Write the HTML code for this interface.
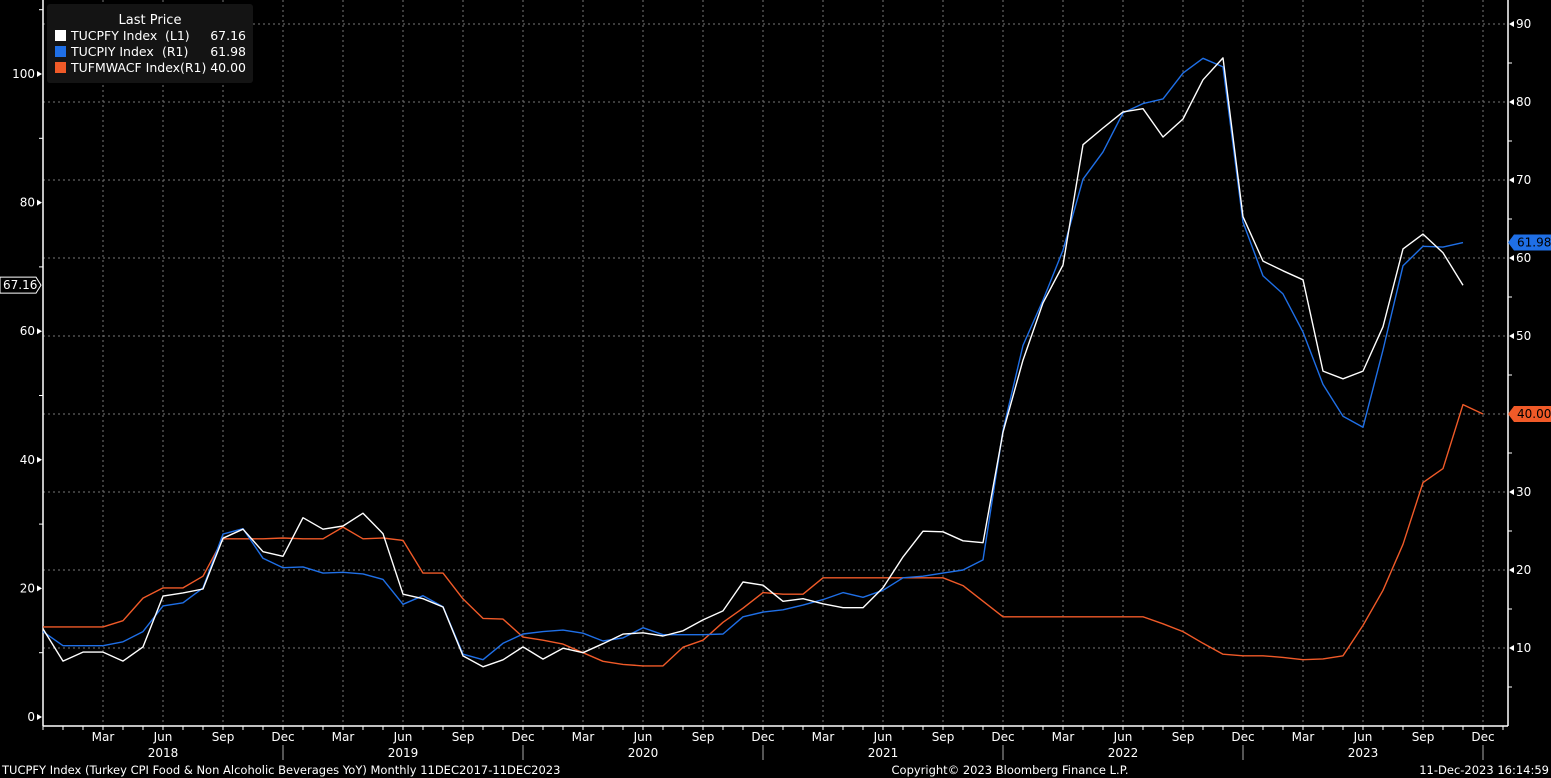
<!DOCTYPE html>
<html><head><meta charset="utf-8"><style>
html,body{margin:0;padding:0;background:#000;}
svg{display:block;font-family:"DejaVu Sans","Liberation Sans",sans-serif;}
</style></head><body>
<svg id="chart" width="1551" height="778" viewBox="0 0 1551 778" xmlns="http://www.w3.org/2000/svg">
<rect x="0" y="0" width="1551" height="778" fill="#000"/>
<g id="grid"></g>
<g id="axes"></g>
<g id="series"></g>
<g id="tags"></g>
<g>
<rect x="47" y="4" width="206" height="79" rx="3" fill="#141414"/>
<text x="150" y="24" fill="#fff" font-size="13" text-anchor="middle">Last Price</text>
<rect x="55" y="30" width="11" height="11" fill="#fff"/>
<text x="71" y="40" fill="#fff" font-size="12.5">TUCPFY Index</text>
<text x="165" y="40" fill="#fff" font-size="12.5">(L1)</text>
<text x="246" y="40" fill="#fff" font-size="12.5" text-anchor="end">67.16</text>
<rect x="55" y="46" width="11" height="11" fill="#1f6fe6"/>
<text x="71" y="56" fill="#fff" font-size="12.5">TUCPIY Index</text>
<text x="162" y="56" fill="#fff" font-size="12.5">(R1)</text>
<text x="246" y="56" fill="#fff" font-size="12.5" text-anchor="end">61.98</text>
<rect x="55" y="62" width="11" height="11" fill="#f05a28"/>
<text x="71" y="72" fill="#fff" font-size="12.5">TUFMWACF Index</text>
<text x="180" y="72" fill="#fff" font-size="12.5">(R1)</text>
<text x="246" y="72" fill="#fff" font-size="12.5" text-anchor="end">40.00</text>
</g>
<text x="2" y="774" fill="#fff" font-size="11.5">TUCPFY Index (Turkey CPI Food &amp; Non Alcoholic Beverages YoY)  Monthly 11DEC2017-11DEC2023</text>
<text x="1010" y="774" fill="#fff" font-size="11.5" text-anchor="middle">Copyright© 2023 Bloomberg Finance L.P.</text>
<text x="1549" y="774" fill="#fff" font-size="11.5" text-anchor="end">11-Dec-2023 16:14:59</text>
</svg>
<script>
const tucpfy = [13.7,8.7,10.1,10.1,8.7,10.9,18.8,19.3,19.9,27.8,29.2,25.7,25.0,31.0,29.2,29.7,31.7,28.5,19.1,18.4,17.1,9.5,7.8,8.9,10.9,9.0,10.7,10.0,11.4,12.9,13.1,12.6,13.4,15.1,16.5,21.0,20.5,18.0,18.4,17.6,17.0,17.0,20.1,24.9,28.9,28.8,27.4,27.1,44.3,55.5,64.4,70.3,89.0,91.6,94.1,94.6,90.2,93.0,99.1,102.5,77.8,70.9,69.4,68.0,53.8,52.6,53.8,60.7,72.8,75.1,72.2,67.16];
const tucpiy = [12.1,10.3,10.3,10.3,10.8,12.1,15.4,15.8,17.7,24.6,25.3,21.5,20.3,20.4,19.6,19.7,19.5,18.8,15.6,16.7,15.3,9.2,8.5,10.6,11.8,12.1,12.3,11.9,10.9,11.3,12.6,11.7,11.7,11.7,11.8,14.0,14.6,14.9,15.5,16.2,17.1,16.5,17.4,19.0,19.2,19.6,20.0,21.3,37.9,48.8,54.6,61.0,70.1,73.6,78.6,79.8,80.4,83.7,85.6,84.5,64.6,57.7,55.4,50.5,43.8,39.7,38.3,48.2,59.0,61.5,61.4,61.98];
const tufmwacf = [12.7,12.7,12.7,12.7,13.5,16.4,17.7,17.7,19.2,24.0,24.0,24.0,24.1,24.0,24.0,25.5,24.0,24.1,23.8,19.6,19.6,16.3,13.8,13.7,11.4,11.0,10.5,9.4,8.3,7.9,7.7,7.7,10.1,11.0,13.3,15.1,17.1,16.9,16.9,19.0,19.0,19.0,19.0,19.0,19.0,19.0,18.0,16.0,14.0,14.0,14.0,14.0,14.0,14.0,14.0,14.0,13.1,12.1,10.6,9.2,9.0,9.0,8.8,8.5,8.6,9.0,12.9,17.4,23.3,31.2,33.0,41.2,40.0];
const leftTicks = [0,20,40,60,80,100];
const rightTicks = [10,20,30,40,50,60,70,80,90];
const monthLabels = ["Mar","Jun","Sep","Dec"];
const years = ["2018","2019","2020","2021","2022","2023"];

const NS="http://www.w3.org/2000/svg";
const X0=43, DX=20, PLOT_R=1508, AXIS_Y=726;
const xAt = i => X0 + DX*i;
const yL = v => 717 - 6.43*v;
const yR = v => 726 - 7.8*v;
function mk(tag, attrs, parent, txt){const e=document.createElementNS(NS,tag);for(const k in attrs)e.setAttribute(k,attrs[k]);if(txt!==undefined)e.textContent=txt;parent.appendChild(e);return e;}
const grid=document.getElementById('grid'), axes=document.getElementById('axes'), ser=document.getElementById('series'), tags=document.getElementById('tags');

rightTicks.forEach(v=>{
  const g=mk('line',{x1:X0,x2:PLOT_R,y1:yR(v),y2:yR(v),stroke:'#777','stroke-dasharray':'2,3','stroke-width':1},grid);
  
  
});
for(let i=3;i<=72;i+=3){
  const x=xAt(i);
  const g=mk('line',{x1:x,x2:x,y1:0,y2:AXIS_Y,stroke:'#777','stroke-dasharray':'2,3','stroke-width':1},grid);
  
  
  const t=mk('text',{x:x,y:741,fill:'#fff','font-size':12,'text-anchor':'middle'},axes,monthLabels[(i/3-1)%4]);
  
  
}
years.forEach((yr,k)=>{
  const t=mk('text',{x:xAt(6+12*k),y:757,fill:'#fff','font-size':12,'text-anchor':'middle'},axes,yr);
  
  
  mk('line',{x1:xAt(12+12*k),x2:xAt(12+12*k),y1:745,y2:760,stroke:'#aaa','stroke-width':1},axes);
});
mk('line',{x1:X0,x2:PLOT_R,y1:AXIS_Y,y2:AXIS_Y,stroke:'#fff','stroke-width':1.5},axes);
mk('line',{x1:X0,x2:X0,y1:0,y2:AXIS_Y,stroke:'#fff','stroke-width':1.5},axes);
mk('line',{x1:PLOT_R,x2:PLOT_R,y1:0,y2:AXIS_Y,stroke:'#fff','stroke-width':1.5},axes);
for(let i=0;i<=73;i++){mk('line',{x1:xAt(i),x2:xAt(i),y1:AXIS_Y,y2:AXIS_Y+4,stroke:'#fff'},axes);}
leftTicks.forEach(v=>{
  const y=yL(v);
  mk('polygon',{points:`${X0-1},${y} ${X0-6},${y-3} ${X0-6},${y+3}`,fill:'#fff'},axes);
  const t=mk('text',{x:X0-8,y:y+4,fill:'#fff','font-size':12,'text-anchor':'end'},axes,String(v));
  
  
});
for(let v=10;v<=110;v+=20){const y=yL(v);mk('line',{x1:X0-4,x2:X0,y1:y,y2:y,stroke:'#fff'},axes);}
rightTicks.forEach(v=>{
  const y=yR(v);
  mk('polygon',{points:`${PLOT_R+1},${y} ${PLOT_R+6},${y-3} ${PLOT_R+6},${y+3}`,fill:'#fff'},axes);
  const t=mk('text',{x:PLOT_R+8,y:y+4,fill:'#fff','font-size':12},axes,String(v));
  
  
});
for(let v=5;v<=95;v+=10){const y=yR(v);mk('line',{x1:PLOT_R,x2:PLOT_R+4,y1:y,y2:y,stroke:'#fff'},axes);}
function line(data, yf, color, name){
  const pts=data.map((v,i)=>xAt(i)+','+yf(v).toFixed(1)).join(' ');
  const p=mk('polyline',{points:pts,fill:'none',stroke:color,'stroke-width':1.4,'stroke-linejoin':'round'},ser);
  
  
}
line(tufmwacf,yR,'#f05a28','tufmwacf-line');
line(tucpiy,yR,'#1f6fe6','tucpiy-line');
line(tucpfy,yL,'#ffffff','tucpfy-line');
function tag(x,y,w,val,bg,fg,border,left){
  const g=mk('g',{},tags);
  
  
  if(left){mk('path',{d:`M0,${y-8} H${w} L${w+5},${y} L${w},${y+8} H0 Z`,fill:bg,stroke:border},g);
    mk('text',{x:3,y:y+4,fill:fg,'font-size':12},g,val);}
  else{mk('path',{d:`M${x},${y} L${x+6},${y-8} H1551 V${y+8} H${x+6} Z`,fill:bg},g);
    mk('text',{x:x+9,y:y+4,fill:fg,'font-size':12},g,val);}
}
tag(0,yL(tucpfy[tucpfy.length-1]),36,tucpfy[tucpfy.length-1].toFixed(2),'#000','#fff','#fff',true);
tag(PLOT_R,yR(tucpiy[tucpiy.length-1]),0,tucpiy[tucpiy.length-1].toFixed(2),'#1f6fe6','#000','',false);
tag(PLOT_R,yR(tufmwacf[tufmwacf.length-1]),0,tufmwacf[tufmwacf.length-1].toFixed(2),'#f05a28','#000','',false);
</script>
</body></html>
